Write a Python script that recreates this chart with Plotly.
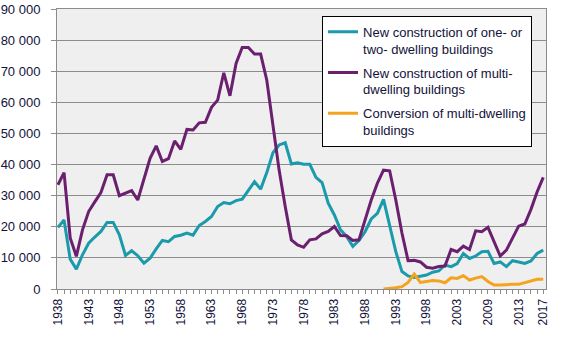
import plotly.graph_objects as go

# Years on the category axis (1938-2017)
years = list(range(1938, 2018))

# New construction of one- or two-dwelling buildings
one_two = [
    19800, 22200, 9600, 6400, 11000, 14700, 16700, 18500, 21400, 21400,
    17400, 10800, 12300, 10700, 8300, 9900, 12900, 15600, 15200, 16900,
    17300, 18000, 17300, 20400, 21700, 23300, 26500, 27800, 27400, 28400,
    28900, 31600, 34500, 32100, 37400, 43800, 46300, 47000, 40200, 40600,
    40100, 40100, 35900, 34200, 27600, 23800, 19000, 16900, 13700, 15600,
    18400, 22500, 24300, 28800, 20000, 12000, 5600, 4200, 3700, 4000,
    4500, 5400, 5800, 7700, 7200, 8200, 11400, 9800, 10600, 12000,
    12100, 8200, 8700, 7200, 9100, 8700, 8200, 9000, 11400, 12500,
]

# New construction of multi-dwelling buildings
multi = [
    33500, 37400, 16400, 10500, 19000, 24900, 28000, 31000, 36700, 36700,
    30000, 30800, 31600, 28600, 35600, 42000, 46000, 41000, 41900, 47600,
    44900, 51300, 51100, 53400, 53600, 58400, 60700, 69500, 62100, 72500,
    77600, 77600, 75500, 75500, 67100, 53200, 38300, 26500, 15800, 14200,
    13400, 15800, 16100, 17700, 18500, 20100, 17200, 17100, 15600, 15800,
    22200, 28600, 34000, 38200, 38000, 28600, 18000, 9100, 9200, 8700,
    7000, 6700, 7200, 7400, 12700, 12000, 13800, 12700, 18700, 18400,
    19800, 15200, 10600, 12500, 16300, 20200, 20900, 25600, 31200, 35900,
]

# Conversion of multi-dwelling buildings (reported from 1991)
conv_years = list(range(1991, 2018))
conversion = [
    0, 100, 400, 750, 2100, 4800, 2100, 2400, 2700, 2600,
    2000, 3600, 3400, 4300, 2900, 3500, 4000, 2400, 1300, 1300,
    1500, 1500, 1500, 2100, 2700, 3100, 3100,
]

# Labelled positions on the year axis and their texts
tick_years = [1938, 1943, 1948, 1953, 1958, 1963, 1968, 1973, 1978, 1983,
              1988, 1993, 1998, 2003, 2008, 2013, 2017]
tick_text = ["1938", "1943", "1948", "1953", "1958", "1963", "1968", "1973",
             "1978", "1983", "1988", "1993", "1998", "2003", "2009", "2013",
             "2017"]

y_ticks = list(range(0, 90001, 10000))

TEAL = "#1a9aab"
PURPLE = "#6b1f6f"
ORANGE = "#f5a31c"
GRID = "#8c8c8c"
TEXT = "#12123a"

fig = go.Figure()
fig.add_trace(go.Scatter(
    x=years, y=one_two, mode="lines", line=dict(color=TEAL, width=3),
    name="New construction of one- or<br>two- dwelling buildings",
    legendgroup="a"))
fig.add_trace(go.Scatter(
    x=years, y=multi, mode="lines", line=dict(color=PURPLE, width=3),
    name="New construction of multi-<br>dwelling buildings",
    legendgroup="b"))
fig.add_trace(go.Scatter(
    x=conv_years, y=conversion, mode="lines", line=dict(color=ORANGE, width=3),
    name="Conversion of multi-dwelling<br>buildings",
    legendgroup="c"))

fig.update_layout(
    width=564, height=343,
    margin=dict(l=57, r=18, t=9, b=54),
    paper_bgcolor="white",
    plot_bgcolor="#efefef",
    separators=". ",
    font=dict(family="Liberation Sans, Arial, sans-serif", size=12, color=TEXT),
    legend=dict(
        x=0.542, y=0.976, xanchor="left", yanchor="top",
        bgcolor="white", bordercolor="black", borderwidth=1,
        font=dict(size=13, color=TEXT),
        valign="top", tracegroupgap=4, itemwidth=30,
    ),
    xaxis=dict(
        range=[1937.85, 2017.45], automargin=False,
        tickmode="array", tickvals=tick_years, ticktext=tick_text,
        tickangle=-90, ticks="outside", ticklen=4, tickcolor=GRID,
        minor=dict(dtick=1, tick0=1938, ticks="outside", ticklen=4,
                   tickcolor=GRID, showgrid=False),
        showgrid=False, showline=True, linecolor=GRID, linewidth=1,
        mirror=True, zeroline=False,
        tickfont=dict(size=12, color=TEXT),
    ),
    yaxis=dict(
        range=[0, 90000], automargin=False,
        tickmode="array", tickvals=y_ticks,
        tickformat=",d",
        ticks="outside", ticklen=5, tickcolor=GRID,
        ticklabelstandoff=8,
        showgrid=True, gridcolor=GRID, gridwidth=1,
        showline=True, linecolor=GRID, linewidth=1, mirror=True,
        zeroline=False,
        tickfont=dict(size=13, color=TEXT),
    ),
)

fig.write_html("out.html")
